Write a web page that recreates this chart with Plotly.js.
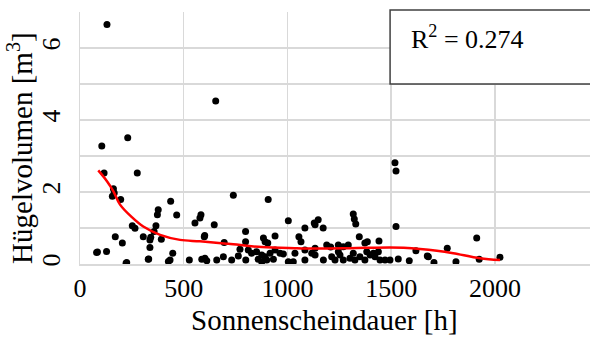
<!DOCTYPE html>
<html><head><meta charset="utf-8">
<script src="https://cdn.plot.ly/plotly-3.0.1.min.js"></script>
<style>html,body{margin:0;padding:0;background:#fff}#c{width:590px;height:338px}</style>
</head><body><div id="c"></div>
<script>
// Scatter data: Sonnenscheindauer [h] vs Hügelvolumen [m³]
const sunHours = [
 80,128,105,116,130,230,654,161,165,156,196,437,377,373,466,252,265,366,357,305,341,337,392,170,204,84,337,225,331,447,434,426,527,
 276,222,329,554,578,583,601,647,739,907,1004,1084,1129,798,599,695,798,884,892,905,940,1055,1065,1084,
 811,827,851,876,859,892,916,940,964,980,771,763,731,691,659,602,611,587,799,876,900,932,1004,1028,1036,1084,1117,
 1518,1523,1523,1317,1322,1329,1133,1148,1172,1346,1385,1373,1441,1133,1189,1208,1245,1269,1293,
 1133,1173,1213,1229,1253,1269,1301,1325,1349,1373,1398,1422,1446,1470,1494,1414,1438,1382,1534,1587,1619,1674,1245,1317,
 1679,1706,1770,1812,1912,1924,2024
];
const volume = [
 0.32,0.35,3.28,2.53,6.65,3.51,4.53,2.09,1.97,1.88,1.79,1.74,1.51,1.37,1.36,1.06,0.99,1.06,0.90,0.76,0.74,0.67,0.69,0.76,0.58,0.33,0.46,0.04,0.14,0.30,0.11,0.07,0.11,
 2.53,0.02,0.13,1.14,1.28,1.37,0.79,1.09,1.91,1.79,1.20,1.00,1.14,0.90,0.76,0.60,0.62,0.72,0.62,0.58,0.78,0.76,0.62,0.39,
 0.39,0.30,0.34,0.25,0.13,0.20,0.30,0.39,0.30,0.28,0.41,0.22,0.11,0.20,0.11,0.16,0.09,0.13,0.11,0.06,0.11,0.13,0.06,0.06,0.30,0.11,0.30,
 2.81,2.58,1.04,1.39,1.25,1.11,1.09,1.23,1.00,0.76,0.62,0.58,0.64,0.44,0.53,0.47,0.53,0.48,0.53,
 0.25,0.11,0.20,0.11,0.25,0.11,0.16,0.11,0.20,0.11,0.25,0.20,0.11,0.11,0.11,0.30,0.34,0.34,0.14,0.09,0.37,0.22,0.34,0.30,
 0.20,0.04,0.44,0.06,0.72,0.13,0.19
];
// Red trend curve
const trendX = [88,130,161,193,250,305,386,482,578,715,876,1036,1133,1301,1494,1560,1639,1720,1799,1928,2024];
const trendY = [2.6,2.3,2.02,1.65,1.3,1.04,0.81,0.67,0.63,0.56,0.47,0.44,0.43,0.44,0.46,0.45,0.42,0.37,0.30,0.16,0.11];
const yTickVals = [0,2,4,6];
const xTickVals = [0,500,1000,1500,2000];
const xTitle = 'Sonnenscheindauer [h]';
const yTitle = 'Hügelvolumen [m<sup>3</sup>]';
const r2Text = "R<sup>2</sup> = 0.274";

const font = "Liberation Serif";
const grid = '#d9d9d9';
const data = [
 {x: sunHours, y: volume, type:'scatter', mode:'markers',
  marker:{color:'#000', size:7}, hoverinfo:'skip'},
 {x: trendX, y: trendY, type:'scatter', mode:'lines',
  line:{color:'#ff0000', width:2.5, shape:'spline'}, hoverinfo:'skip'}
];
const layout = {
 width:590, height:338, showlegend:false,
 margin:{l:80, r:0, t:12, b:74},
 paper_bgcolor:'#fff', plot_bgcolor:'#fff',
 font:{family:font, color:'#000', size:24},
 xaxis:{range:[0,2458], tickvals:xTickVals, showgrid:true, gridcolor:grid, gridwidth:1.5,
   zeroline:false, showline:true, linecolor:grid, linewidth:1.5, ticks:'',
   tickfont:{family:font, size:26}, automargin:false},
 yaxis:{range:[0,7], tickvals:yTickVals, tickangle:-90,
   ticks:'outside', ticklen:8, tickcolor:'rgba(0,0,0,0)',
   showgrid:true, gridcolor:grid, gridwidth:1.5,
   minor:{dtick:1, tick0:0, showgrid:true, gridcolor:grid, gridwidth:1.5, ticks:''},
   zeroline:false, showline:true, linecolor:grid, linewidth:1.5,
   tickfont:{family:font, size:26}, automargin:false},
 shapes:[{type:'rect', xref:'paper', yref:'paper', x0:0.608, x1:1.05, y0:0.714, y1:1.008,
   fillcolor:'#fff', line:{color:'#404040', width:1.5}, layer:'above'}],
 annotations:[
  {xref:'paper', yref:'paper', x:0.645, y:0.90, xanchor:'left', yanchor:'middle',
   text:r2Text, showarrow:false, font:{family:font, size:26, color:'#000'}},
  {xref:'paper', yref:'paper', x:0.48, y:-0.222, xanchor:'center', yanchor:'middle',
   text:xTitle, showarrow:false, font:{family:font, size:29, color:'#000'}},
  {xref:'paper', yref:'paper', x:-0.118, y:0.46, xanchor:'center', yanchor:'middle', textangle:-90,
   text:yTitle, showarrow:false, font:{family:font, size:29, color:'#000'}}
 ]
};
Plotly.newPlot('c', data, layout, {staticPlot:true, displayModeBar:false});
</script>
</body></html>
